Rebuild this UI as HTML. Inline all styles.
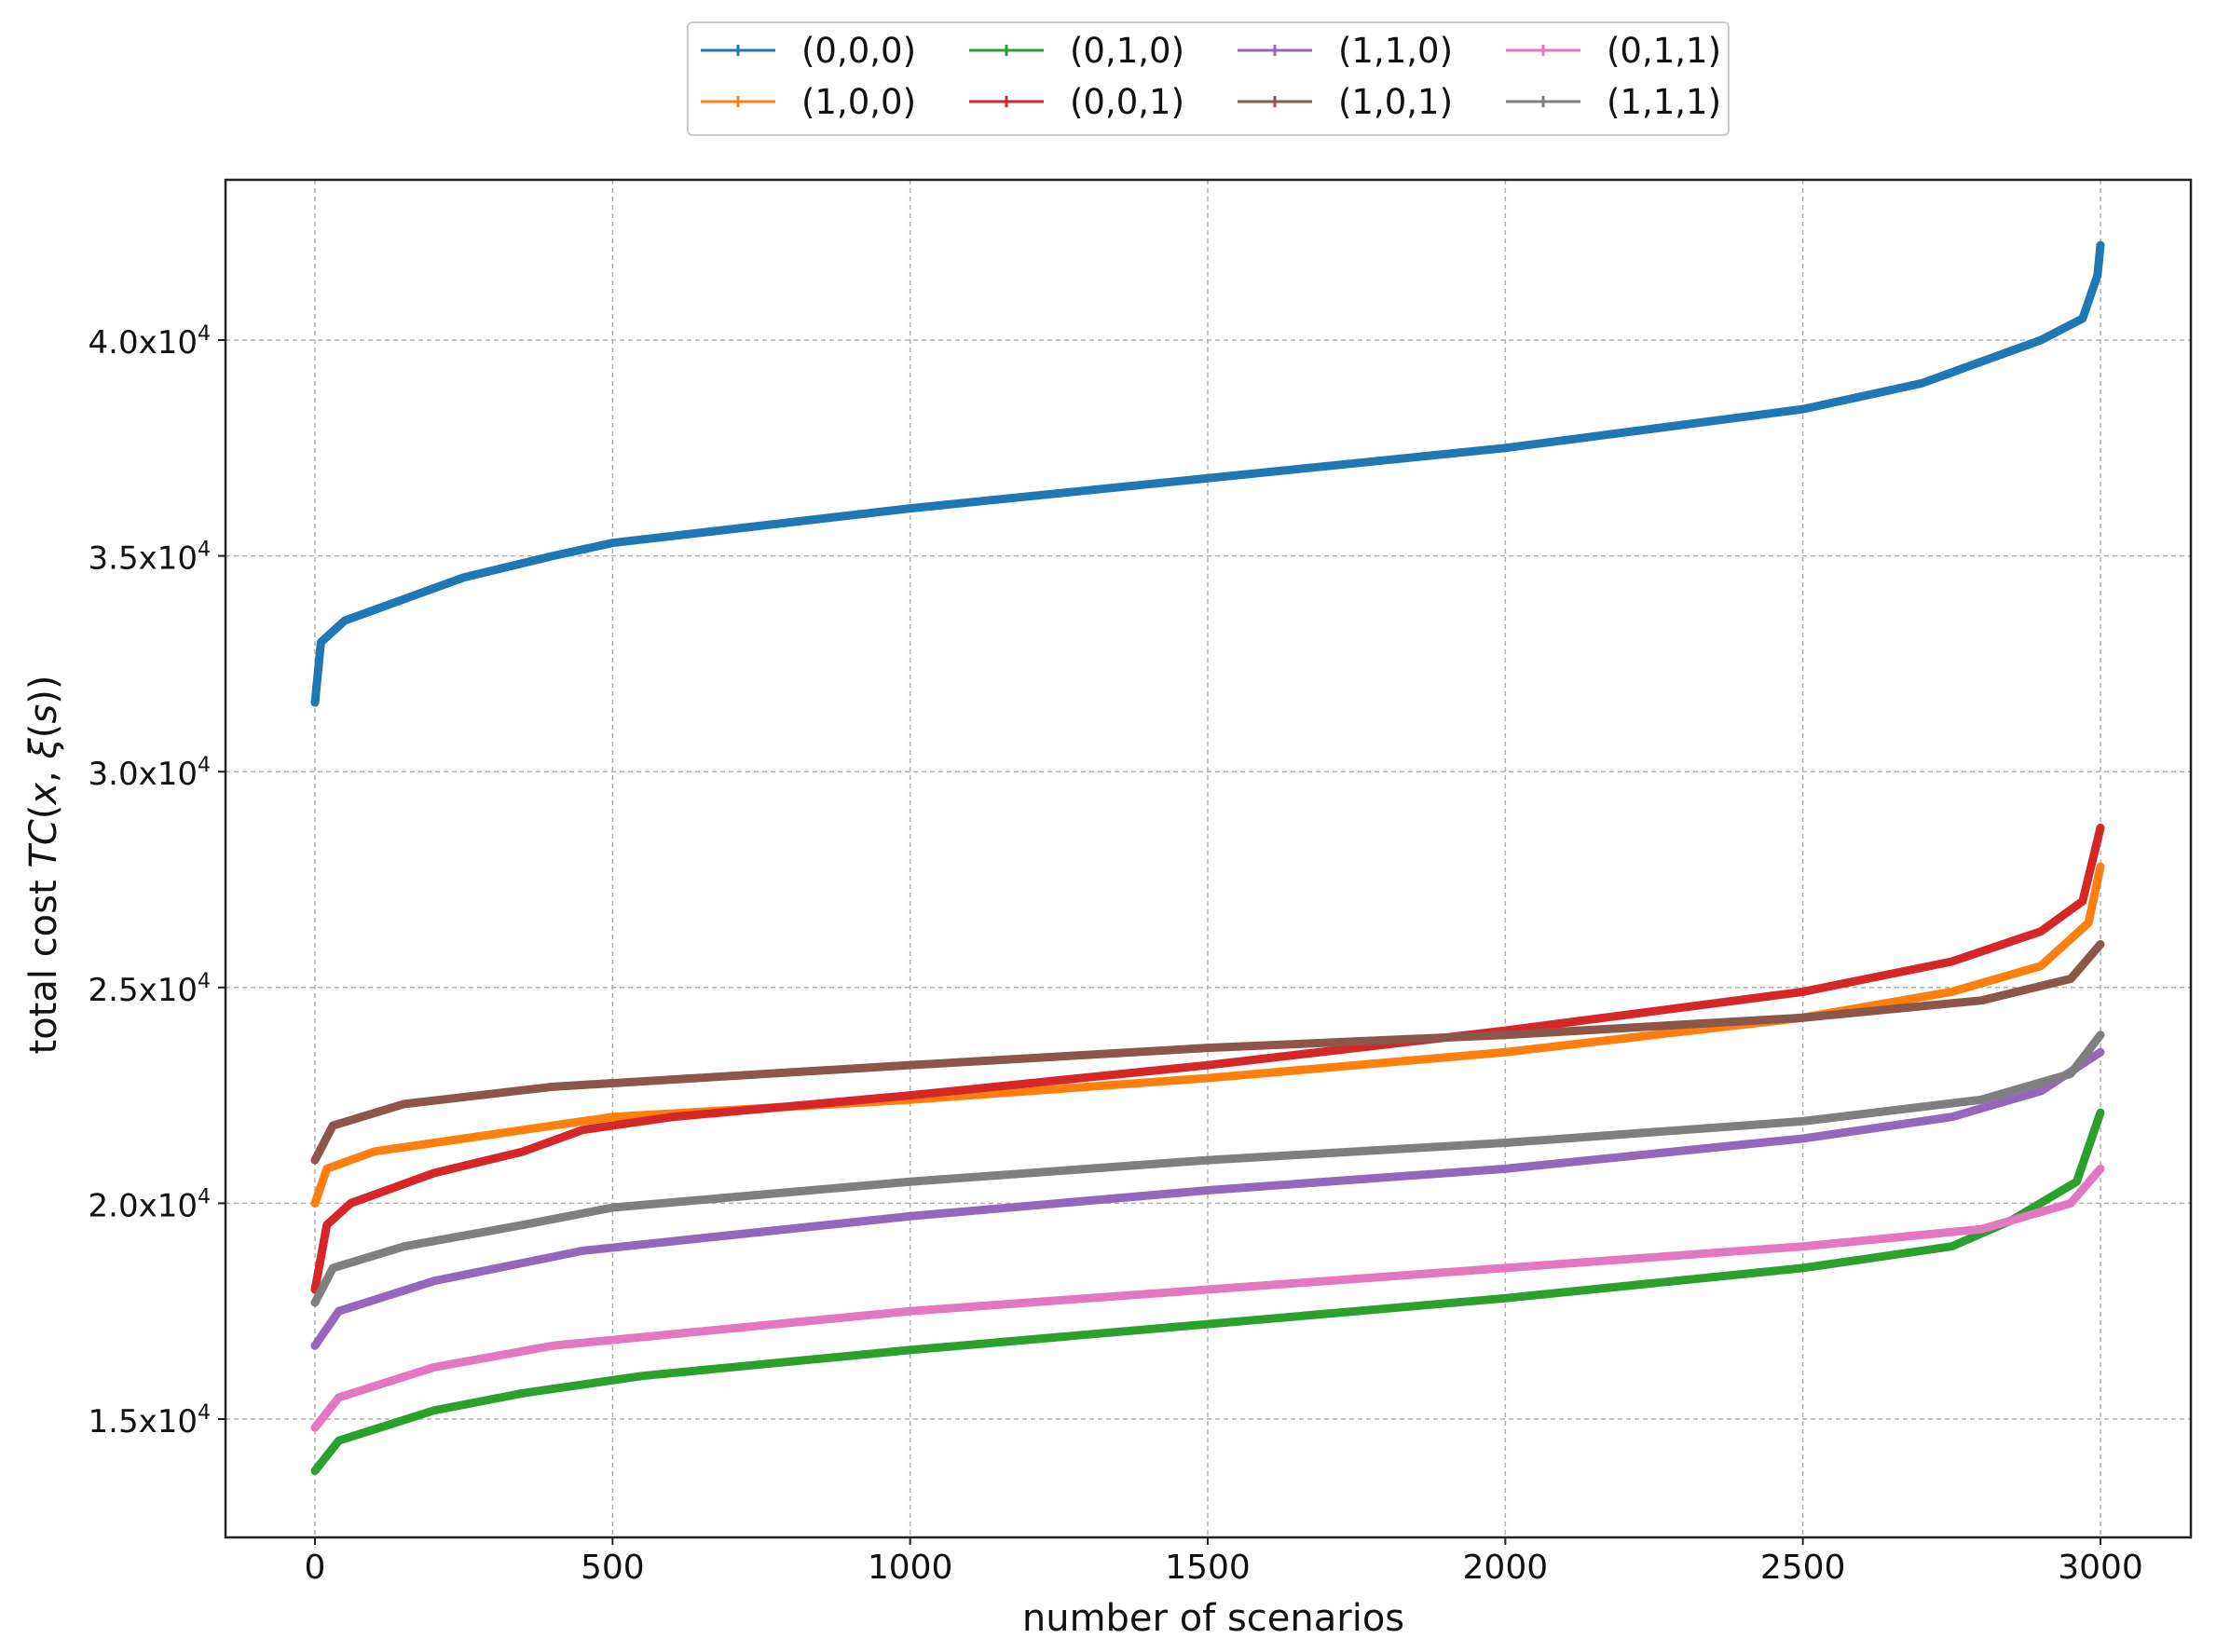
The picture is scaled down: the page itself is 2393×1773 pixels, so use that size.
<!DOCTYPE html>
<html><head><meta charset="utf-8"><style>
body{margin:0;background:#fff}
svg{display:block;font-family:"DejaVu Sans","Liberation Sans",sans-serif}
</style></head><body>
<svg id="chart" width="2393" height="1773" viewBox="0 0 2393 1773" xmlns="http://www.w3.org/2000/svg">
<rect width="2393" height="1773" fill="#fff"/>
<g id="grid"></g>
<g id="series"></g>
<rect x="242" y="193" width="2109" height="1457" fill="none" stroke="#222" stroke-width="2.5"/>
<g id="ticks"></g>
<text x="1302" y="1750" font-size="40" text-anchor="middle" fill="#111">number of scenarios</text>
<text transform="translate(60,928) rotate(-90)" font-size="40" text-anchor="middle" fill="#111">total cost <tspan font-style="italic">TC</tspan>(<tspan font-style="italic">x</tspan>, <tspan font-style="italic">ξ</tspan>(<tspan font-style="italic">s</tspan>))</text>
<g id="legend">
<rect x="738" y="24" width="1117" height="121" rx="5" fill="#fff" stroke="#ccc" stroke-width="2"/>
</g>
</svg>
<script>
const xTicks=[0,500,1000,1500,2000,2500,3000];
const yTicks=[1.5,2.0,2.5,3.0,3.5,4.0];
const names=["(0,0,0)","(1,0,0)","(0,1,0)","(0,0,1)","(1,1,0)","(1,0,1)","(0,1,1)","(1,1,1)"];
const colors=["#1f77b4","#ff7f0e","#2ca02c","#d62728","#9467bd","#8c564b","#e377c2","#7f7f7f"];
const sBlue=[[0,3.16],[10,3.30],[50,3.35],[150,3.40],[250,3.45],[400,3.50],[500,3.53],[1000,3.61],[1500,3.68],[2000,3.75],[2500,3.84],[2700,3.90],[2800,3.95],[2900,4.00],[2970,4.05],[2995,4.15],[3000,4.22]];
const sOrange=[[0,2.00],[20,2.08],[100,2.12],[300,2.16],[500,2.20],[1000,2.24],[1500,2.29],[2000,2.35],[2500,2.43],[2750,2.49],[2900,2.55],[2980,2.65],[3000,2.78]];
const sGreen=[[0,1.38],[40,1.45],[200,1.52],[350,1.56],[550,1.60],[1000,1.66],[1500,1.72],[2000,1.78],[2500,1.85],[2750,1.90],[2850,1.96],[2960,2.05],[3000,2.21]];
const sRed=[[0,1.80],[20,1.95],[60,2.00],[200,2.07],[350,2.12],[450,2.17],[600,2.20],[1000,2.25],[1500,2.32],[2000,2.40],[2500,2.49],[2750,2.56],[2900,2.63],[2970,2.70],[3000,2.87]];
const sPurple=[[0,1.67],[40,1.75],[200,1.82],[450,1.89],[1000,1.97],[1500,2.03],[2000,2.08],[2500,2.15],[2750,2.20],[2900,2.26],[3000,2.35]];
const sBrown=[[0,2.10],[30,2.18],[150,2.23],[400,2.27],[1000,2.32],[1500,2.36],[2000,2.39],[2500,2.43],[2800,2.47],[2950,2.52],[3000,2.60]];
const sPink=[[0,1.48],[40,1.55],[200,1.62],[400,1.67],[1000,1.75],[1500,1.80],[2000,1.85],[2500,1.90],[2800,1.94],[2950,2.00],[3000,2.08]];
const sGray=[[0,1.77],[30,1.85],[150,1.90],[350,1.95],[500,1.99],[1000,2.05],[1500,2.10],[2000,2.14],[2500,2.19],[2800,2.24],[2950,2.30],[3000,2.39]];
const seriesData=[sBlue,sOrange,sGreen,sRed,sPurple,sBrown,sPink,sGray];
const NS="http://www.w3.org/2000/svg";
const X=v=>338+(v-0)*(2254-338)/3000;
const Y=v=>365+(4.0-v)*(1523-365)/2.5;
function mk(tag,attrs,parent){const e=document.createElementNS(NS,tag);for(const k in attrs)e.setAttribute(k,attrs[k]);parent.appendChild(e);return e;}
const grid=document.getElementById('grid'),ticks=document.getElementById('ticks'),ser=document.getElementById('series'),leg=document.getElementById('legend');
xTicks.forEach(t=>{
  const g=mk('line',{x1:X(t),x2:X(t),y1:193,y2:1650,stroke:'#b0b0b0','stroke-width':1.5,'stroke-dasharray':'5,4'},grid);
  
  
  const tk=mk('line',{x1:X(t),x2:X(t),y1:1650,y2:1658,stroke:'#222','stroke-width':2},ticks);
  
  
  const tx=mk('text',{x:X(t),y:1694,'font-size':36,'text-anchor':'middle',fill:'#111'},ticks);
  tx.textContent=t;
  
  
});
yTicks.forEach(t=>{
  const g=mk('line',{x1:242,x2:2351,y1:Y(t),y2:Y(t),stroke:'#b0b0b0','stroke-width':1.5,'stroke-dasharray':'5,4'},grid);
  
  
  const tk=mk('line',{x1:234,x2:242,y1:Y(t),y2:Y(t),stroke:'#222','stroke-width':2},ticks);
  
  
  const tx=mk('text',{x:226,y:Y(t)+14,'font-size':34,'text-anchor':'end',fill:'#111'},ticks);
  tx.innerHTML=t.toFixed(1)+'x10<tspan dy="-14" font-size="22">4</tspan>';
  
  
});
seriesData.forEach((d,i)=>{
  const p=mk('polyline',{points:d.map(q=>X(q[0])+','+Y(q[1])).join(' '),fill:'none',stroke:colors[i],'stroke-width':9,'stroke-linejoin':'round','stroke-linecap':'round'},ser);
  
  
});
const order=[0,2,4,6,1,3,5,7];
order.forEach((si,k)=>{
  const col=k%4,row=Math.floor(k/4);
  const lx=752+col*288,ly=54+row*55;
  const l=mk('line',{x1:lx,x2:lx+80,y1:ly,y2:ly,stroke:colors[si],'stroke-width':3},leg);
  
  
  const m=mk('line',{x1:lx+40,x2:lx+40,y1:ly-6,y2:ly+6,stroke:colors[si],'stroke-width':3},leg);
  
  
  const t=mk('text',{x:lx+108,y:ly+13,'font-size':37,fill:'#111'},leg);
  t.textContent=names[si];
  
  
});
</script>
</body></html>
